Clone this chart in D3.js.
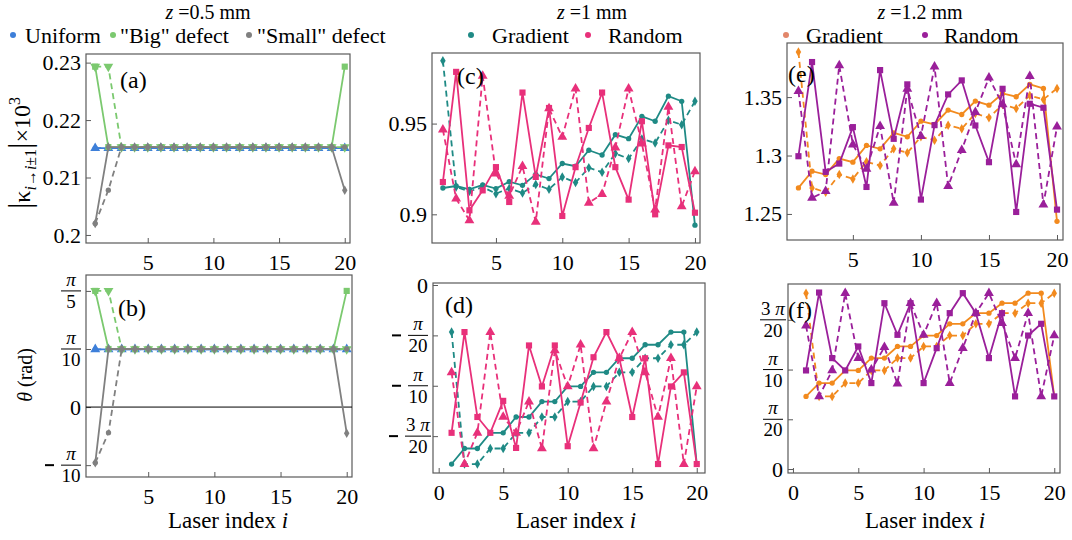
<!DOCTYPE html>
<html>
<head>
<meta charset="utf-8">
<script src="https://cdn.jsdelivr.net/npm/d3@7/dist/d3.min.js"></script>
<style>
  body { margin: 0; background: #fff; }
  svg text { font-family: "Liberation Serif", "Tinos", "DejaVu Serif", serif; fill: #000; }
</style>
</head>
<body>
<svg id="chart" width="1072" height="540"></svg>
<script>
// ---- data (laser index i = 1..20) ----
var laser = [1,2,3,4,5,6,7,8,9,10,11,12,13,14,15,16,17,18,19,20];

// z = 0.5 mm, |kappa| x 10^3
var kUniform   = [0.2151,0.2151,0.2151,0.2151,0.2151,0.2151,0.2151,0.2151,0.2151,0.2151,0.2151,0.2151,0.2151,0.2151,0.2151,0.2151,0.2151,0.2151,0.2151,0.2151];
var kUniformD  = [0.2151,0.2151,0.2151,0.2151,0.2151,0.2151,0.2151,0.2151,0.2151,0.2151,0.2151,0.2151,0.2151,0.2151,0.2151,0.2151,0.2151,0.2151,0.2151,0.2151];
var kBig       = [0.2293,0.2153,0.2153,0.2153,0.2153,0.2153,0.2153,0.2153,0.2153,0.2153,0.2153,0.2153,0.2153,0.2153,0.2153,0.2153,0.2153,0.2153,0.2153,0.2293];
var kBigD      = [0.2293,0.2293,0.2153,0.2153,0.2153,0.2153,0.2153,0.2153,0.2153,0.2153,0.2153,0.2153,0.2153,0.2153,0.2153,0.2153,0.2153,0.2153,0.2153,0.2153];
var kSmall     = [0.2020,0.2153,0.2153,0.2153,0.2153,0.2153,0.2153,0.2153,0.2153,0.2153,0.2153,0.2153,0.2153,0.2153,0.2153,0.2153,0.2153,0.2153,0.2153,0.2078];
var kSmallD    = [0.2020,0.2078,0.2153,0.2153,0.2153,0.2153,0.2153,0.2153,0.2153,0.2153,0.2153,0.2153,0.2153,0.2153,0.2153,0.2153,0.2153,0.2153,0.2153,0.2153];

// z = 0.5 mm, theta in units of pi
var thUniform  = [0.0995,0.0995,0.0995,0.0995,0.0995,0.0995,0.0995,0.0995,0.0995,0.0995,0.0995,0.0995,0.0995,0.0995,0.0995,0.0995,0.0995,0.0995,0.0995,0.0995];
var thUniformD = [0.0995,0.0995,0.0995,0.0995,0.0995,0.0995,0.0995,0.0995,0.0995,0.0995,0.0995,0.0995,0.0995,0.0995,0.0995,0.0995,0.0995,0.0995,0.0995,0.0995];
var thBig      = [0.2,0.1,0.1,0.1,0.1,0.1,0.1,0.1,0.1,0.1,0.1,0.1,0.1,0.1,0.1,0.1,0.1,0.1,0.1,0.2];
var thBigD     = [0.2,0.2,0.1,0.1,0.1,0.1,0.1,0.1,0.1,0.1,0.1,0.1,0.1,0.1,0.1,0.1,0.1,0.1,0.1,0.1];
var thSmall    = [-0.096,0.1,0.1,0.1,0.1,0.1,0.1,0.1,0.1,0.1,0.1,0.1,0.1,0.1,0.1,0.1,0.1,0.1,0.1,-0.045];
var thSmallD   = [-0.096,-0.044,0.1,0.1,0.1,0.1,0.1,0.1,0.1,0.1,0.1,0.1,0.1,0.1,0.1,0.1,0.1,0.1,0.1,0.1];

// z = 1 mm
var kGrad1   = [0.9145,0.9156,0.9138,0.9162,0.9142,0.918,0.916,0.922,0.9197,0.928,0.9265,0.9353,0.9327,0.9439,0.9417,0.954,0.9513,0.9651,0.9623,0.894];
var kGrad1D  = [0.9846,0.915,0.9127,0.915,0.9114,0.9143,0.9118,0.9164,0.9138,0.9206,0.9175,0.9257,0.9232,0.9335,0.9307,0.9415,0.9393,0.9518,0.9494,0.9623];
var kRand1   = [0.9178,0.9785,0.9022,0.9132,0.926,0.9068,0.9671,0.9206,0.9586,0.8991,0.926,0.9476,0.9671,0.926,0.9081,0.9513,0.9,0.938,0.9371,0.9009];
var kRand1D  = [0.9467,0.9086,0.8967,0.9763,0.9224,0.9101,0.9265,0.8958,0.9583,0.9426,0.9693,0.9063,0.9111,0.9368,0.9693,0.939,0.9026,0.9592,0.9044,0.9237];
var thGrad1  = [-0.1777,-0.1623,-0.1623,-0.1467,-0.1467,-0.131,-0.131,-0.1157,-0.1157,-0.1007,-0.1007,-0.0867,-0.0867,-0.0727,-0.0727,-0.0593,-0.0593,-0.0467,-0.0467,-0.1777];
var thGrad1D = [-0.0467,-0.1777,-0.1777,-0.1623,-0.1623,-0.1467,-0.1467,-0.131,-0.131,-0.1157,-0.1157,-0.1007,-0.1007,-0.0867,-0.0867,-0.0727,-0.0727,-0.0593,-0.0593,-0.0467];
var thRand1  = [-0.1467,-0.0467,-0.131,-0.1467,-0.115,-0.1617,-0.06,-0.1007,-0.06,-0.16,-0.1167,-0.0717,-0.0467,-0.0727,-0.131,-0.0727,-0.1777,-0.1007,-0.0867,-0.1777];
var thRand1D = [-0.0867,-0.1777,-0.1467,-0.0467,-0.131,-0.1467,-0.1157,-0.1623,-0.065,-0.1007,-0.0593,-0.1623,-0.1157,-0.0727,-0.0467,-0.0867,-0.131,-0.0727,-0.1777,-0.1007];

// z = 1.2 mm
var kGrad2   = [1.2723,1.2866,1.2837,1.2974,1.2943,1.3086,1.3057,1.3194,1.316,1.3294,1.3266,1.3389,1.3351,1.3466,1.3431,1.3531,1.3503,1.3609,1.3574,1.2437];
var kGrad2D  = [1.3886,1.2723,1.2686,1.2837,1.28,1.2946,1.2914,1.3057,1.3023,1.316,1.3131,1.326,1.3229,1.336,1.3323,1.3437,1.3403,1.3514,1.348,1.3574];
var kRand2   = [1.2994,1.38,1.286,1.2931,1.3243,1.2731,1.3731,1.3143,1.3609,1.2623,1.326,1.3523,1.3643,1.3257,1.2943,1.3571,1.2517,1.3443,1.3409,1.2537];
var kRand2D  = [1.3551,1.2637,1.2694,1.3771,1.3094,1.2886,1.3251,1.2594,1.3571,1.3166,1.376,1.2737,1.3046,1.3371,1.3666,1.3437,1.2923,1.368,1.258,1.3246];
var thGrad2  = [0.073,0.0864,0.0864,0.0991,0.0991,0.1115,0.1115,0.1232,0.1232,0.1342,0.1342,0.146,0.146,0.1567,0.1567,0.1667,0.1667,0.1768,0.1768,0.073];
var thGrad2D = [0.1768,0.073,0.073,0.0864,0.0864,0.0991,0.0991,0.1115,0.1115,0.1232,0.1232,0.1342,0.1342,0.146,0.146,0.1567,0.1567,0.1667,0.1667,0.1768];
var thRand2  = [0.0991,0.1774,0.1115,0.0991,0.1232,0.0864,0.1667,0.1349,0.1667,0.0864,0.1215,0.1567,0.1768,0.1567,0.1115,0.1567,0.073,0.1342,0.146,0.073];
var thRand2D = [0.144,0.073,0.0991,0.1768,0.1115,0.0998,0.1225,0.0857,0.1667,0.1349,0.1667,0.0864,0.1215,0.1567,0.1768,0.1466,0.1115,0.1567,0.073,0.1342];

// ticks
var xTicksTop = [5,10,15,20];
var xTicksZero = [0,5,10,15,20];
var yTicksA = [0.2,0.21,0.22,0.23], yLabelsA = ["0.2","0.21","0.22","0.23"];
var yTicksC = [0.9,0.95], yLabelsC = ["0.9","0.95"];
var yTicksE = [1.25,1.3,1.35], yLabelsE = ["1.25","1.3","1.35"];
var yTicksB = [-0.1,0,0.1,0.2];
var yLabelsB = [{neg:true,num:"π",den:"10"}, "0", {num:"π",den:"10"}, {num:"π",den:"5"}];
var yTicksD = [0,-0.05,-0.1,-0.15];
var yLabelsD = ["0", {neg:true,num:"π",den:"20"}, {neg:true,num:"π",den:"10"}, {neg:true,pre:"3",num:"π",den:"20"}];
var yTicksF = [0,0.05,0.1,0.15];
var yLabelsF = ["0", {num:"π",den:"20"}, {num:"π",den:"10"}, {pre:"3",num:"π",den:"20"}];

// colours
var cBlue = "#3d7fd9", cGreen = "#7bc96f", cGray = "#808080";
var cTeal = "#1f8a85", cPink = "#e8307a", cOrange = "#f28a1e", cPurple = "#9a1f9a";

var svg = d3.select("#chart");
var frameColor = "#5a5a5a";
var serif = "'Liberation Serif', 'Tinos', 'DejaVu Serif', serif";

var markers = {
  circle: {type: d3.symbolCircle, size: 22, rot: 0},
  square: {type: d3.symbolSquare, size: 38, rot: 0},
  diamond: {type: d3.symbolDiamond, size: 26, rot: 0},
  triUp: {type: d3.symbolTriangle, size: 42, rot: 0},
  triDown: {type: d3.symbolTriangle, size: 42, rot: 180}
};

function drawPanel(p) {
  var x = d3.scaleLinear().domain(p.xDomain).range([p.left, p.right]);
  var y = d3.scaleLinear().domain(p.yDomain).range([p.bottom, p.top]);
  var g = svg.append("g");

  // frame
  g.append("rect")
    .attr("x", p.left).attr("y", p.top)
    .attr("width", p.right - p.left).attr("height", p.bottom - p.top)
    .attr("fill", "none").attr("stroke", frameColor).attr("stroke-width", 1.2);

  // x axis
  var xAxis = g.append("g")
    .attr("transform", "translate(0," + p.bottom + ")")
    .call(d3.axisBottom(x).tickValues(p.xTicks).tickSize(-5).tickPadding(11));
  xAxis.attr("font-family", serif);
  xAxis.select(".domain").remove();
  xAxis.selectAll("line").attr("stroke", frameColor);
  xAxis.selectAll("text").style("font-size", "22px").attr("fill", "#000");

  // y axis
  var yAxis = g.append("g")
    .attr("transform", "translate(" + p.left + ",0)")
    .call(d3.axisLeft(y).tickValues(p.yTicks).tickSize(-5).tickPadding(5)
      .tickFormat(function(d, i) { return typeof p.yLabels[i] === "string" ? p.yLabels[i] : ""; }));
  yAxis.attr("font-family", serif);
  yAxis.select(".domain").remove();
  yAxis.selectAll("line").attr("stroke", frameColor);
  yAxis.selectAll("text").style("font-size", "22px").attr("fill", "#000");

  // pi fraction labels
  p.yTicks.forEach(function(t, i) {
    var lab = p.yLabels[i];
    if (typeof lab === "string") return;
    var ty = y(t);
    var cx = p.left - 15;
    var fg = g.append("g");
    var num = fg.append("text").attr("x", cx).attr("y", ty - 5)
      .attr("text-anchor", "middle").style("font-size", "19px");
    if (lab.pre) num.append("tspan").text(lab.pre + " ");
    num.append("tspan").style("font-style", "italic").text(lab.num);
    fg.append("text").attr("x", cx).attr("y", ty + 17)
      .attr("text-anchor", "middle").style("font-size", "19px").text(lab.den);
    var hw = lab.pre ? 13 : 10;
    fg.append("line")
      .attr("x1", cx - hw).attr("x2", cx + hw).attr("y1", ty).attr("y2", ty)
      .attr("stroke", "#000").attr("stroke-width", 1);
    if (lab.neg) {
      fg.append("line")
        .attr("x1", cx - hw - 16).attr("x2", cx - hw - 7).attr("y1", ty).attr("y2", ty)
        .attr("stroke", "#000").attr("stroke-width", 2);
    }
  });

  // zero line
  if (p.zeroLine) {
    g.append("line")
      .attr("x1", p.left).attr("x2", p.right)
      .attr("y1", y(0)).attr("y2", y(0))
      .attr("stroke", "#000").attr("stroke-width", 1);
  }

  // series
  var line = d3.line()
    .x(function(d) { return x(d.i); })
    .y(function(d) { return y(d.v); });
  p.series.forEach(function(s) {
    var pts = laser.map(function(i, k) { return {i: i, v: s.values[k]}; });
    g.append("path")
      .attr("d", line(pts))
      .attr("fill", "none")
      .attr("stroke", s.color)
      .attr("stroke-width", 1.8)
      .attr("stroke-dasharray", s.dash ? "6,4" : null);
    var m = markers[s.marker];
    g.selectAll(null).data(pts).enter().append("path")
      .attr("d", d3.symbol().type(m.type).size(m.size))
      .attr("transform", function(d) {
        return "translate(" + x(d.i) + "," + y(d.v) + ") rotate(" + m.rot + ")";
      })
      .attr("fill", s.color);
  });

  // panel label
  g.append("text").attr("x", p.labelX).attr("y", p.labelY)
    .style("font-size", "24px").text(p.label);

  return g;
}

var panels = [
  {label: "(a)", labelX: 120, labelY: 88, left: 86, right: 350, top: 54, bottom: 243,
   xDomain: [0.3, 20.4], yDomain: [0.1986, 0.2315], xTicks: xTicksTop, yTicks: yTicksA, yLabels: yLabelsA,
   series: [
     {values: kUniform, color: cBlue, dash: false, marker: "circle"},
     {values: kUniformD, color: cBlue, dash: true, marker: "triUp"},
     {values: kBig, color: cGreen, dash: false, marker: "square"},
     {values: kBigD, color: cGreen, dash: true, marker: "triDown"},
     {values: kSmall, color: cGray, dash: false, marker: "diamond"},
     {values: kSmallD, color: cGray, dash: true, marker: "circle"}
   ]},
  {label: "(b)", labelX: 118, labelY: 316, left: 86, right: 352, top: 275, bottom: 477,
   xDomain: [0.3, 20.4], yDomain: [-0.1204, 0.2274], xTicks: xTicksTop, yTicks: yTicksB, yLabels: yLabelsB, zeroLine: true,
   series: [
     {values: thUniform, color: cBlue, dash: false, marker: "circle"},
     {values: thUniformD, color: cBlue, dash: true, marker: "triUp"},
     {values: thBig, color: cGreen, dash: false, marker: "square"},
     {values: thBigD, color: cGreen, dash: true, marker: "triDown"},
     {values: thSmall, color: cGray, dash: false, marker: "diamond"},
     {values: thSmallD, color: cGray, dash: true, marker: "circle"}
   ]},
  {label: "(c)", labelX: 457, labelY: 84, left: 432, right: 700, top: 53, bottom: 243,
   xDomain: [0.18, 20.38], yDomain: [0.8842, 0.9889], xTicks: xTicksTop, yTicks: yTicksC, yLabels: yLabelsC,
   series: [
     {values: kGrad1, color: cTeal, dash: false, marker: "circle"},
     {values: kGrad1D, color: cTeal, dash: true, marker: "diamond"},
     {values: kRand1, color: cPink, dash: false, marker: "square"},
     {values: kRand1D, color: cPink, dash: true, marker: "triUp"}
   ]},
  {label: "(d)", labelX: 445, labelY: 313, left: 433, right: 705, top: 283, bottom: 473,
   xDomain: [-0.44, 20.64], yDomain: [-0.1866, 0.002], xTicks: xTicksZero, yTicks: yTicksD, yLabels: yLabelsD,
   series: [
     {values: thGrad1, color: cTeal, dash: false, marker: "circle"},
     {values: thGrad1D, color: cTeal, dash: true, marker: "diamond"},
     {values: thRand1, color: cPink, dash: false, marker: "square"},
     {values: thRand1D, color: cPink, dash: true, marker: "triUp"}
   ]},
  {label: "(e)", labelX: 788, labelY: 82, left: 787, right: 1063, top: 43, bottom: 240,
   xDomain: [0.16, 20.44], yDomain: [1.2277, 1.3963], xTicks: xTicksTop, yTicks: yTicksE, yLabels: yLabelsE,
   series: [
     {values: kGrad2, color: cOrange, dash: false, marker: "circle"},
     {values: kGrad2D, color: cOrange, dash: true, marker: "diamond"},
     {values: kRand2, color: cPurple, dash: false, marker: "square"},
     {values: kRand2D, color: cPurple, dash: true, marker: "triUp"}
   ]},
  {label: "(f)", labelX: 788, labelY: 318, left: 788, right: 1060, top: 284, bottom: 473,
   xDomain: [-0.38, 20.44], yDomain: [-0.004, 0.186], xTicks: xTicksZero, yTicks: yTicksF, yLabels: yLabelsF,
   series: [
     {values: thGrad2, color: cOrange, dash: false, marker: "circle"},
     {values: thGrad2D, color: cOrange, dash: true, marker: "diamond"},
     {values: thRand2, color: cPurple, dash: false, marker: "square"},
     {values: thRand2D, color: cPurple, dash: true, marker: "triUp"}
   ]}
];

panels.forEach(drawPanel);

// titles
function title(cx, val) {
  var t = svg.append("text").attr("x", cx).attr("y", 18.5)
    .attr("text-anchor", "middle").style("font-size", "20px");
  t.append("tspan").style("font-style", "italic").text("z");
  t.append("tspan").text(" =" + val + " mm");
}
title(208, "0.5");
title(592, "1");
title(920, "1.2");

// legends
function legendItem(dx, tx, color, label) {
  svg.append("circle").attr("cx", dx).attr("cy", 35).attr("r", 3).attr("fill", color);
  svg.append("text").attr("x", tx).attr("y", 42.5).style("font-size", "22px").text(label);
}
legendItem(13, 25, cBlue, "Uniform");
legendItem(113, 120, cGreen, "\"Big\" defect");
legendItem(249, 257, cGray, "\"Small\" defect");
legendItem(471, 492, cTeal, "Gradient");
legendItem(588, 608, cPink, "Random");
legendItem(786, 806, "#e2866a", "Gradient");
legendItem(925, 944, cPurple, "Random");

// y labels
var yl = svg.append("text").attr("transform", "translate(30,153) rotate(-90)")
  .attr("text-anchor", "middle").style("font-size", "24px");
yl.append("tspan").style("font-size", "32px").text("|");
yl.append("tspan").text("κ");
yl.append("tspan").attr("dy", 6).style("font-size", "16px").style("font-style", "italic").text("i");
yl.append("tspan").style("font-size", "16px").text("→");
yl.append("tspan").style("font-size", "16px").style("font-style", "italic").text("i");
yl.append("tspan").style("font-size", "16px").text("±1");
yl.append("tspan").attr("dy", -6).style("font-size", "32px").text("|");
yl.append("tspan").text("×10");
yl.append("tspan").attr("dy", -10).style("font-size", "16px").text("3");

var yl2 = svg.append("text").attr("transform", "translate(32,375) rotate(-90)")
  .attr("text-anchor", "middle").style("font-size", "20px");
yl2.append("tspan").style("font-style", "italic").text("θ");
yl2.append("tspan").text(" (rad)");

// x labels
[228, 576, 925].forEach(function(cx) {
  var t = svg.append("text").attr("x", cx).attr("y", 528)
    .attr("text-anchor", "middle").style("font-size", "23px");
  t.append("tspan").text("Laser index ");
  t.append("tspan").style("font-style", "italic").text("i");
});
</script>
</body>
</html>
